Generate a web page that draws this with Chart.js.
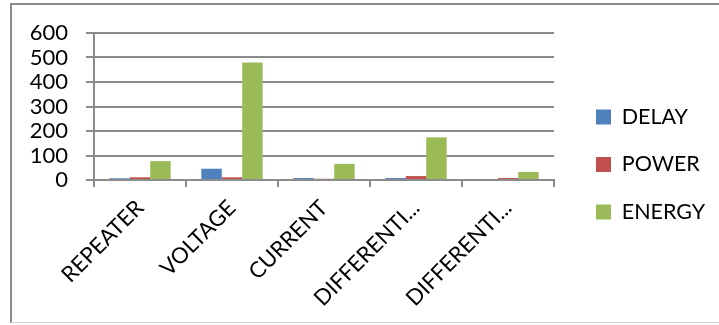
<!DOCTYPE html>
<html>
<head>
<meta charset="utf-8">
<script src="https://cdn.jsdelivr.net/npm/chart.js@4.4.1/dist/chart.umd.min.js"></script>
<style>
  html, body { margin: 0; padding: 0; background: #fff; overflow: hidden; }
  #frame {
    position: absolute; left: 10px; top: 3px; width: 730px; height: 317px;
    border-left: 2px solid #8c8c8c; border-top: 2px solid #8c8c8c; border-bottom: 1px solid #d4d4d4;
  }
  #wrap { position: absolute; left: 0; top: 0; width: 719px; height: 325px; }
</style>
</head>
<body>
<div id="frame"></div>
<div id="wrap"><canvas id="c" width="719" height="325"></canvas></div>
<script>
// Circuit styles compared on three measures
const categories = ['REPEATER', 'VOLTAGE', 'CURRENT', 'DIFFERENTI...', 'DIFFERENTI...'];
const delay  = [7, 46, 8, 8, 0];
const power  = [11, 11, 5, 16, 8];
const energy = [77, 480, 66, 174, 33];
const yTicks = [0, 100, 200, 300, 400, 500, 600];

const FONT = 'Lato, "Open Sans", sans-serif';
const GRID = '#8c8c8c';

// Pins the plot rectangle and the legend column
const placement = {
  id: 'placement',
  beforeInit(chart) {
    const lg = chart.legend;
    const fit = lg.fit.bind(lg);
    lg.fit = function () { fit(); this.width = 165; };
  },
  afterLayout(chart) {
    const lg = chart.legend;
    lg.left = 570; lg.right = 719;
    lg.top = 4; lg.bottom = 325;
    lg.width = lg.right - lg.left; lg.height = lg.bottom - lg.top;
  }
};

new Chart(document.getElementById('c'), {
  type: 'bar',
  data: {
    labels: categories,
    datasets: [
      { label: 'DELAY',  data: delay,  backgroundColor: '#4F81BD' },
      { label: 'POWER',  data: power,  backgroundColor: '#C0504D' },
      { label: 'ENERGY', data: energy, backgroundColor: '#9BBB59' }
    ]
  },
  options: {
    responsive: false,
    animation: false,
    devicePixelRatio: 1,
    layout: { padding: { top: 33, left: 0, right: 0, bottom: 0 } },
    datasets: { bar: { categoryPercentage: 0.667, barPercentage: 1.0 } },
    plugins: {
      tooltip: { enabled: false },
      legend: {
        position: 'right',
        labels: {
          font: { family: FONT, size: 21.5 },
          color: '#000',
          boxWidth: 15, boxHeight: 15,
          padding: 26
        }
      }
    },
    scales: {
      x: {
        afterFit(s) { s.height = 145; },
        grid: { display: true, drawOnChartArea: false, offset: true, tickLength: 7, color: GRID, lineWidth: 2 },
        border: { display: true, color: GRID, width: 2 },
        ticks: {
          minRotation: 45, maxRotation: 45, autoSkip: false,
          font: { family: FONT, size: 22 }, color: '#000', padding: 8
        }
      },
      y: {
        min: 0, max: 600,
        afterFit(s) { s.width = 94; },
        afterBuildTicks(s) { s.ticks = yTicks.map(v => ({ value: v })); },
        grid: { color: GRID, lineWidth: 2, tickLength: 8 },
        border: { display: true, color: GRID, width: 2 },
        ticks: { autoSkip: false, font: { family: FONT, size: 22 }, color: '#000', padding: 18 }
      }
    }
  },
  plugins: [placement]
});
</script>
</body>
</html>
